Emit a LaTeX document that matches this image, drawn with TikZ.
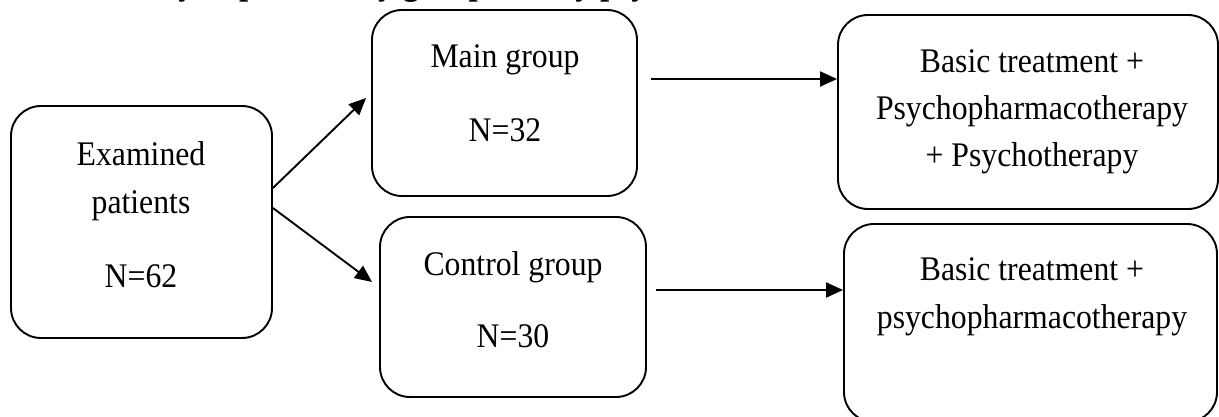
\documentclass[tikz,border=0pt]{standalone}
\usepackage{fontspec}
\setmainfont{Liberation Serif}[FakeStretch=0.92]
\usetikzlibrary{arrows.meta,calc}
\begin{document}
\begin{tikzpicture}[x=1pt,y=-1pt,
  box/.style={draw,line width=1.9pt,rounded corners=30pt,inner sep=0pt,fill=none},
  txt/.style={anchor=base,inner sep=0pt,font=\fontsize{34.5}{48}\selectfont},
  ttl/.style={anchor=base west,inner sep=0pt,font=\fontsize{36}{40}\selectfont\bfseries},
  arr/.style={line width=1.9pt,-{Triangle[length=17pt,width=15pt]}}]
\useasboundingbox (0,0) rectangle (1219,417);
\clip (0,0) rectangle (1219,417);
% clipped title (only descenders visible)
\node[ttl] (title) at (112,-5) {Study of patients by group and by psychiatric care};
% boxes
\node[box,minimum width=261pt,minimum height=232pt] (ex) at (141.5,222) {};
\node[box,minimum width=265pt,minimum height=186pt] (main) at (504.5,103) {};
\node[box,minimum width=266pt,minimum height=180pt] (ctrl) at (513,307) {};
\node[box,minimum width=380pt,minimum height=194pt] (r1) at (1028,112) {};
\node[box,minimum width=373pt,minimum height=198pt] (r2) at (1030.5,323) {};
% texts
\node[txt] (exT) at (141,166) {\begin{tabular}[t]{@{}c@{}}Examined\\patients\\[26pt]N=62\end{tabular}};
\node[txt] (mainT) at (505,68) {\begin{tabular}[t]{@{}c@{}}Main group\\[26pt]N=32\end{tabular}};
\node[txt] (ctrlT) at (513,275) {\begin{tabular}[t]{@{}c@{}}Control group\\[25pt]N=30\end{tabular}};
\node[txt] (r1T) at (1032,73) {\begin{tabular}[t]{@{}c@{}}Basic treatment +\\[-1pt]Psychopharmacotherapy\\[-1pt]+ Psychotherapy\end{tabular}};
\node[txt] (r2T) at (1032,280) {\begin{tabular}[t]{@{}c@{}}Basic treatment +\\psychopharmacotherapy\end{tabular}};
% connectors
\draw[arr] ($(ex.east)+(0,-34)$) -- ($(main.west)+(-5,-5)$);
\draw[arr] ($(ex.east)+(0,-14)$) -- ($(ctrl.west)+(-7,-25)$);
\coordinate (s1) at ($(main.east)+(13,-24)$);
\coordinate (s2) at ($(ctrl.east)+(9,-17)$);
\draw[arr] (s1) -- (s1 -| r1.west);
\draw[arr] (s2) -- (s2 -| r2.west);
\end{tikzpicture}
\end{document}
